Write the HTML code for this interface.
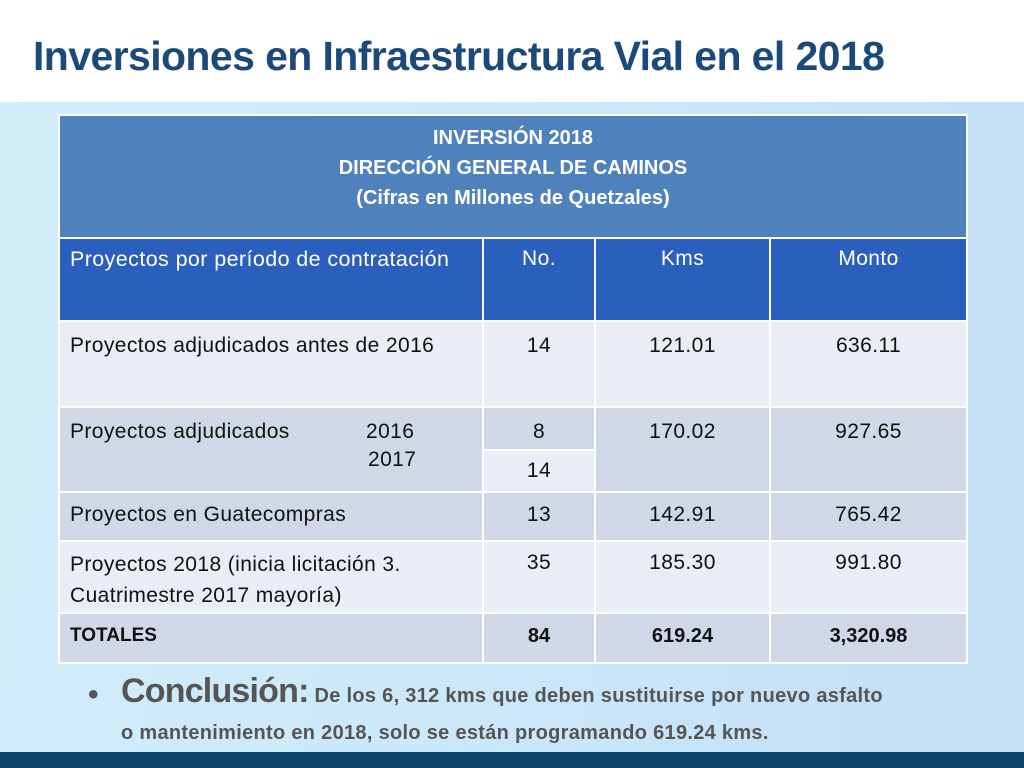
<!DOCTYPE html>
<html><head><meta charset="utf-8">
<style>
*{margin:0;padding:0;box-sizing:border-box}
body{width:1024px;height:768px;position:relative;overflow:hidden;font-family:"Liberation Sans",sans-serif;background:#d4ecf9}
.abs{position:absolute}
#top{left:0;top:0;width:1024px;height:102px;background:#fff}
#bg{left:0;top:102px;width:1024px;height:650px;background:linear-gradient(100deg,#d3edfa 0%,#cbe8f9 50%,#c4def6 100%)}
#title{left:33px;top:33px;font-size:41px;font-weight:bold;color:#1b4a7a;letter-spacing:-0.6px;white-space:nowrap}
.c{position:absolute;font-size:21px;color:#111;padding:10px 10px;letter-spacing:0.4px;line-height:28px;white-space:nowrap}
.ctr{text-align:center}
#foot{left:0;top:752px;width:1024px;height:16px;background:#0f4468}
</style></head><body>
<div class="abs" id="top"></div>
<div class="abs" id="bg"></div>
<div class="abs" id="title">Inversiones en Infraestructura Vial en el 2018</div>

<div class="abs" style="left:58px;top:114px;width:910px;height:550px;background:#fff"></div>
<div class="c ctr" style="left:60px;top:116px;width:906px;height:121px;background:#4f81bd;color:#fff;font-weight:bold;font-size:20px;letter-spacing:0;line-height:30px;padding-top:7px">INVERSIÓN 2018<br>DIRECCIÓN GENERAL DE CAMINOS<br>(Cifras en Millones de Quetzales)</div>

<div class="c" style="left:60px;top:239px;width:422px;height:81px;background:#2b5fbd;color:#fff;font-size:21.5px;padding-top:6px">Proyectos por período de contratación</div>
<div class="c ctr" style="left:484px;top:239px;width:110px;height:81px;background:#2b5fbd;color:#fff;padding-top:6px">No.</div>
<div class="c ctr" style="left:596px;top:239px;width:173px;height:81px;background:#2b5fbd;color:#fff;padding-top:6px">Kms</div>
<div class="c ctr" style="left:771px;top:239px;width:195px;height:81px;background:#2b5fbd;color:#fff;padding-top:6px">Monto</div>

<div class="c" style="left:60px;top:322px;width:422px;height:84px;background:#e9edf4">Proyectos adjudicados antes de 2016</div>
<div class="c ctr" style="left:484px;top:322px;width:110px;height:84px;background:#e9edf4">14</div>
<div class="c ctr" style="left:596px;top:322px;width:173px;height:84px;background:#e9edf4">121.01</div>
<div class="c ctr" style="left:771px;top:322px;width:195px;height:84px;background:#e9edf4">636.11</div>

<div class="c" style="left:60px;top:408px;width:422px;height:83px;background:#d0d7e6">Proyectos adjudicados<span style="position:absolute;left:306px;top:10px">2016</span><span style="position:absolute;left:308px;top:38px">2017</span></div>
<div class="c ctr" style="left:484px;top:408px;width:110px;height:41px;background:#d0d7e6">8</div>
<div class="c ctr" style="left:484px;top:451px;width:110px;height:40px;background:#e9edf4;padding-top:6px">14</div>
<div class="c ctr" style="left:596px;top:408px;width:173px;height:83px;background:#d0d7e6">170.02</div>
<div class="c ctr" style="left:771px;top:408px;width:195px;height:83px;background:#d0d7e6">927.65</div>

<div class="c" style="left:60px;top:493px;width:422px;height:47px;background:#d0d7e6;padding-top:8px">Proyectos en Guatecompras</div>
<div class="c ctr" style="left:484px;top:493px;width:110px;height:47px;background:#d0d7e6;padding-top:8px">13</div>
<div class="c ctr" style="left:596px;top:493px;width:173px;height:47px;background:#d0d7e6;padding-top:8px">142.91</div>
<div class="c ctr" style="left:771px;top:493px;width:195px;height:47px;background:#d0d7e6;padding-top:8px">765.42</div>

<div class="c" style="left:60px;top:542px;width:422px;height:70px;background:#e9edf4;padding-top:7px;line-height:31px">Proyectos 2018 (inicia licitación 3.<br>Cuatrimestre 2017 mayoría)</div>
<div class="c ctr" style="left:484px;top:542px;width:110px;height:70px;background:#e9edf4;padding-top:7px">35</div>
<div class="c ctr" style="left:596px;top:542px;width:173px;height:70px;background:#e9edf4;padding-top:7px">185.30</div>
<div class="c ctr" style="left:771px;top:542px;width:195px;height:70px;background:#e9edf4;padding-top:7px">991.80</div>

<div class="c" style="left:60px;top:614px;width:422px;height:48px;background:#d0d7e6;font-weight:bold;font-size:19px;letter-spacing:0;padding-top:8px">TOTALES</div>
<div class="c ctr" style="left:484px;top:614px;width:110px;height:48px;background:#d0d7e6;font-weight:bold;font-size:20px;letter-spacing:0;padding-top:8px">84</div>
<div class="c ctr" style="left:596px;top:614px;width:173px;height:48px;background:#d0d7e6;font-weight:bold;font-size:20px;letter-spacing:0;padding-top:8px">619.24</div>
<div class="c ctr" style="left:771px;top:614px;width:195px;height:48px;background:#d0d7e6;font-weight:bold;font-size:20px;letter-spacing:0;padding-top:8px">3,320.98</div>

<div class="abs" style="left:88px;top:678px;font-size:30px;color:#555;font-weight:bold">•</div>
<div class="abs" style="left:121px;top:673px;width:900px;color:#555;font-weight:bold;font-size:20px;line-height:37px;letter-spacing:0.3px;white-space:nowrap"><span style="font-size:34px;letter-spacing:-0.8px">Conclusión:</span> De los 6, 312 kms que deben sustituirse por nuevo asfalto<br>o mantenimiento en 2018, solo se están programando 619.24 kms.</div>

<div class="abs" id="foot"></div>
</body></html>
